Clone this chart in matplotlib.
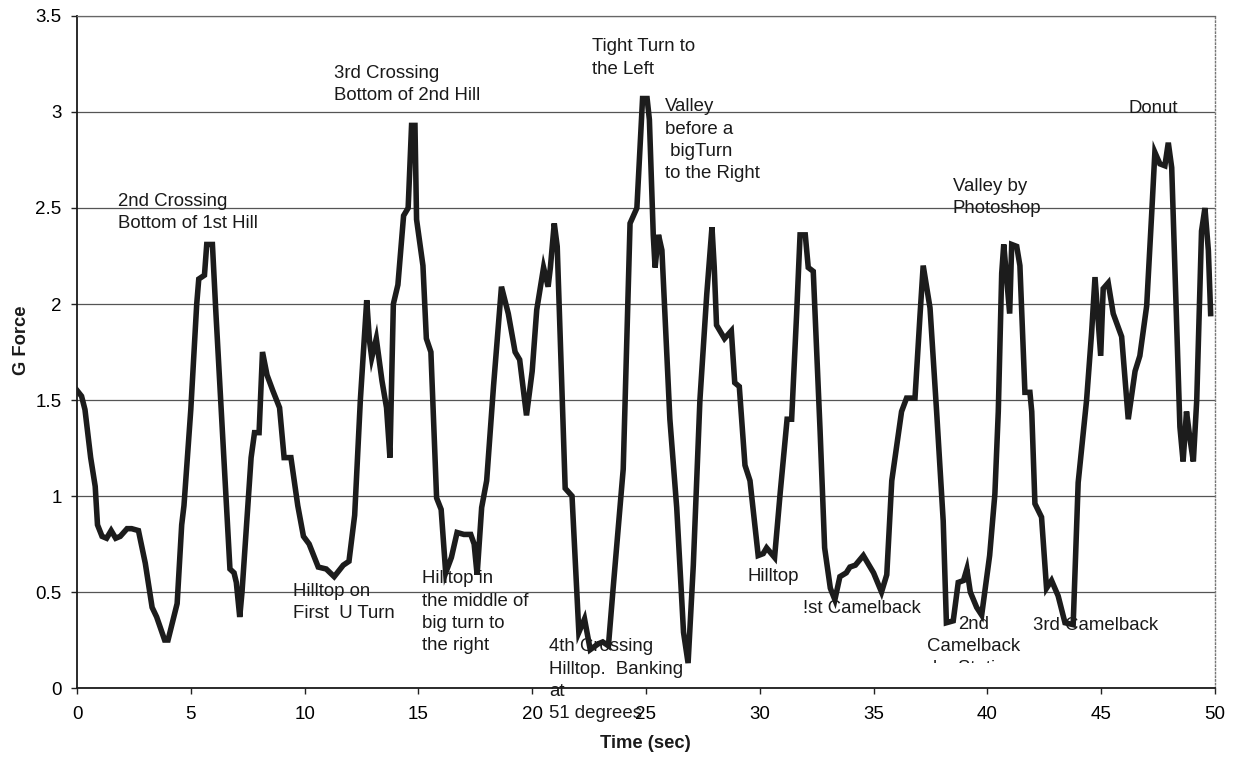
import matplotlib
matplotlib.use("Agg")
import matplotlib.pyplot as plt
from matplotlib.transforms import Bbox, TransformedBbox

plt.rcParams['font.family'] = ['Liberation Sans', 'DejaVu Sans']

# G force trace
time_s = [0.0, 0.2, 0.35, 0.6, 0.8, 0.9, 1.1, 1.3, 1.5, 1.7, 1.9, 2.2, 2.4, 2.7,
          3.0, 3.3, 3.5, 3.85, 4.0, 4.4, 4.6, 4.7, 5.0, 5.26, 5.35, 5.6, 5.7, 5.95,
          6.1, 6.72, 6.9, 7.0, 7.15, 7.25, 7.65, 7.8, 8.0, 8.15, 8.35, 8.6, 8.9,
          9.1, 9.4, 9.7, 9.95, 10.2, 10.6, 10.95, 11.3, 11.7, 11.95, 12.2, 12.45,
          12.73, 12.85, 12.95, 13.15, 13.4, 13.6, 13.75, 13.9, 14.1, 14.35, 14.55,
          14.7, 14.85, 14.92, 15.2, 15.35, 15.55, 15.8, 16.0, 16.2, 16.45, 16.7,
          17.0, 17.3, 17.45, 17.58, 17.78, 18.0, 18.3, 18.65, 18.95, 19.25, 19.45,
          19.75, 20.0, 20.2, 20.5, 20.7, 20.8, 20.97, 21.1, 21.45, 21.75, 22.05,
          22.3, 22.55, 22.9, 23.1, 23.35, 23.55, 24.0, 24.3, 24.6, 24.85, 25.05,
          25.15, 25.32, 25.4, 25.55, 25.7, 26.05, 26.35, 26.65, 26.85, 27.08,
          27.37, 27.67, 27.9, 28.0, 28.1, 28.45, 28.75, 28.9, 29.1, 29.35, 29.57,
          29.93, 30.15, 30.3, 30.65, 30.9, 31.2, 31.4, 31.62, 31.77, 32.0, 32.13,
          32.35, 32.65, 32.85, 33.1, 33.3, 33.52, 33.8, 33.96, 34.2, 34.55, 35.0,
          35.35, 35.58, 35.8, 36.23, 36.45, 36.82, 37.04, 37.18, 37.48, 37.77,
          38.06, 38.2, 38.5, 38.72, 38.95, 39.1, 39.25, 39.53, 39.75, 40.1, 40.33,
          40.48, 40.63, 40.72, 40.98, 41.07, 41.29, 41.43, 41.65, 41.87, 41.95,
          42.09, 42.38, 42.6, 42.82, 43.11, 43.41, 43.77, 43.99, 44.36, 44.58,
          44.73, 44.87, 44.98, 45.09, 45.31, 45.53, 45.9, 46.19, 46.49, 46.7,
          47.0, 47.22, 47.36, 47.58, 47.8, 47.95, 48.1, 48.32, 48.46, 48.6, 48.75,
          48.9, 49.05, 49.2, 49.41, 49.56, 49.71, 49.81]
g_force = [1.55, 1.52, 1.45, 1.2, 1.05, 0.85, 0.79, 0.78, 0.82, 0.78, 0.79, 0.83,
           0.83, 0.82, 0.65, 0.42, 0.37, 0.25, 0.25, 0.44, 0.85, 0.95, 1.45, 2.0,
           2.13, 2.15, 2.31, 2.31, 1.96, 0.62, 0.6, 0.55, 0.37, 0.5, 1.2, 1.33,
           1.33, 1.75, 1.63, 1.55, 1.46, 1.2, 1.2, 0.95, 0.79, 0.75, 0.63, 0.62,
           0.58, 0.64, 0.66, 0.9, 1.5, 2.02, 1.81, 1.72, 1.82, 1.6, 1.46, 1.2,
           2.0, 2.1, 2.46, 2.5, 2.93, 2.93, 2.44, 2.2, 1.82, 1.75, 0.99, 0.93,
           0.6, 0.68, 0.81, 0.8, 0.8, 0.75, 0.59, 0.94, 1.08, 1.57, 2.09, 1.95,
           1.75, 1.71, 1.42, 1.65, 1.97, 2.19, 2.09, 2.19, 2.42, 2.3, 1.04, 1.0,
           0.29, 0.36, 0.2, 0.23, 0.24, 0.22, 0.51, 1.14, 2.42, 2.5, 3.07, 3.07,
           2.96, 2.36, 2.19, 2.36, 2.28, 1.4, 0.94, 0.29, 0.13, 0.64, 1.5, 2.05,
           2.4, 2.19, 1.89, 1.82, 1.86, 1.59, 1.57, 1.16, 1.08, 0.69, 0.7, 0.73,
           0.68, 1.02, 1.4, 1.4, 1.95, 2.36, 2.36, 2.19, 2.17, 1.34, 0.73, 0.52,
           0.46, 0.58, 0.6, 0.63, 0.64, 0.69, 0.6, 0.5, 0.59, 1.08, 1.44, 1.51,
           1.51, 1.94, 2.2, 1.98, 1.44, 0.87, 0.34, 0.35, 0.55, 0.56, 0.62, 0.5,
           0.42, 0.38, 0.69, 1.01, 1.44, 2.16, 2.31, 1.95, 2.31, 2.3, 2.2, 1.54,
           1.54, 1.44, 0.96, 0.89, 0.52, 0.56, 0.48, 0.34, 0.33, 1.07, 1.5, 1.85,
           2.14, 1.91, 1.73, 2.08, 2.11, 1.95, 1.83, 1.4, 1.65, 1.73, 1.99, 2.47,
           2.79, 2.73, 2.72, 2.84, 2.71, 1.89, 1.36, 1.18, 1.44, 1.3, 1.18, 1.5,
           2.38, 2.5, 2.28, 1.95]

x_ticks = [0, 5, 10, 15, 20, 25, 30, 35, 40, 45, 50]
y_ticks = [0, 0.5, 1, 1.5, 2, 2.5, 3, 3.5]
y_tick_labels = ['0', '0.5', '1', '1.5', '2', '2.5', '3', '3.5']

# (label, x, baseline of the last line)
notes = [
    ("2nd Crossing\nBottom of 1st Hill", 1.80, 2.396),
    ("3rd Crossing\nBottom of 2nd Hill", 11.29, 3.06),
    ("Tight Turn to\nthe Left", 22.63, 3.20),
    ("Valley\nbefore a\n bigTurn\nto the Right", 25.83, 2.656),
    ("Donut", 46.22, 2.995),
    ("Valley by\nPhotoshop", 38.49, 2.474),
    ("Hilltop on\nFirst  U Turn", 9.49, 0.365),
    ("Hilltop in\nthe middle of\nbig turn to\nthe right", 15.16, 0.198),
    ("4th Crossing\nHilltop.  Banking\nat\n51 degrees", 20.74, -0.156),
    ("Hilltop", 29.48, 0.56),
    ("!st Camelback", 31.9, 0.39),
    ("3rd Camelback", 42.0, 0.30),
]

fig = plt.figure(figsize=(12.4, 7.57), dpi=100)
ax = fig.add_axes([0.0621, 0.0911, 0.9177, 0.8878])

ax.plot(time_s, g_force, color='#1c1c1c', linewidth=4.0, solid_joinstyle='miter', zorder=4)

ax.set_xlim(0, 50)
ax.set_ylim(0, 3.5)
ax.set_xticks(x_ticks)
ax.set_xticklabels([str(v) for v in x_ticks])
ax.set_yticks(y_ticks)
ax.set_yticklabels(y_tick_labels)
ax.tick_params(axis='both', labelsize=13.5, direction='out', length=4, width=1, color='#222222')
ax.tick_params(axis='x', pad=9)
ax.tick_params(axis='y', pad=7)
ax.grid(axis='y', color='#555555', linewidth=0.9)
ax.set_axisbelow(True)

ax.spines['left'].set_color('#1a1a1a')
ax.spines['left'].set_linewidth(1.3)
ax.spines['bottom'].set_color('#1a1a1a')
ax.spines['bottom'].set_linewidth(1.3)
ax.spines['top'].set_color('#666666')
ax.spines['top'].set_linewidth(0.9)
ax.spines['right'].set_color('#777777')
ax.spines['right'].set_linestyle(':')
ax.spines['right'].set_linewidth(1.0)

for txt, tx, ty in notes:
    ax.text(tx, ty, txt, fontsize=13.4, color='#1a1a1a', ha='left', va='baseline',
            multialignment='left', linespacing=1.40, zorder=3, clip_on=False)

# this label is cut off at the bottom in the original
cam2 = ax.text(39.41, 0.078, "2nd\nCamelback\nby Station", fontsize=13.4, color='#1a1a1a',
               ha='center', va='baseline', multialignment='center', linespacing=1.40, zorder=3)
cam2.set_clip_on(True)
cam2.set_clip_box(TransformedBbox(Bbox([[30, 0.13], [50, 3.5]]), ax.transData))

fig.text(645 / 1240, 1 - 743 / 757, "Time (sec)", fontsize=13.2, fontweight='bold',
         ha='center', va='center', color='#1a1a1a')
fig.text(22 / 1240, 1 - 340 / 757, "G Force", fontsize=13.2, fontweight='bold',
         rotation=90, ha='center', va='center', color='#1a1a1a')

fig.savefig("out.png", dpi=100)
